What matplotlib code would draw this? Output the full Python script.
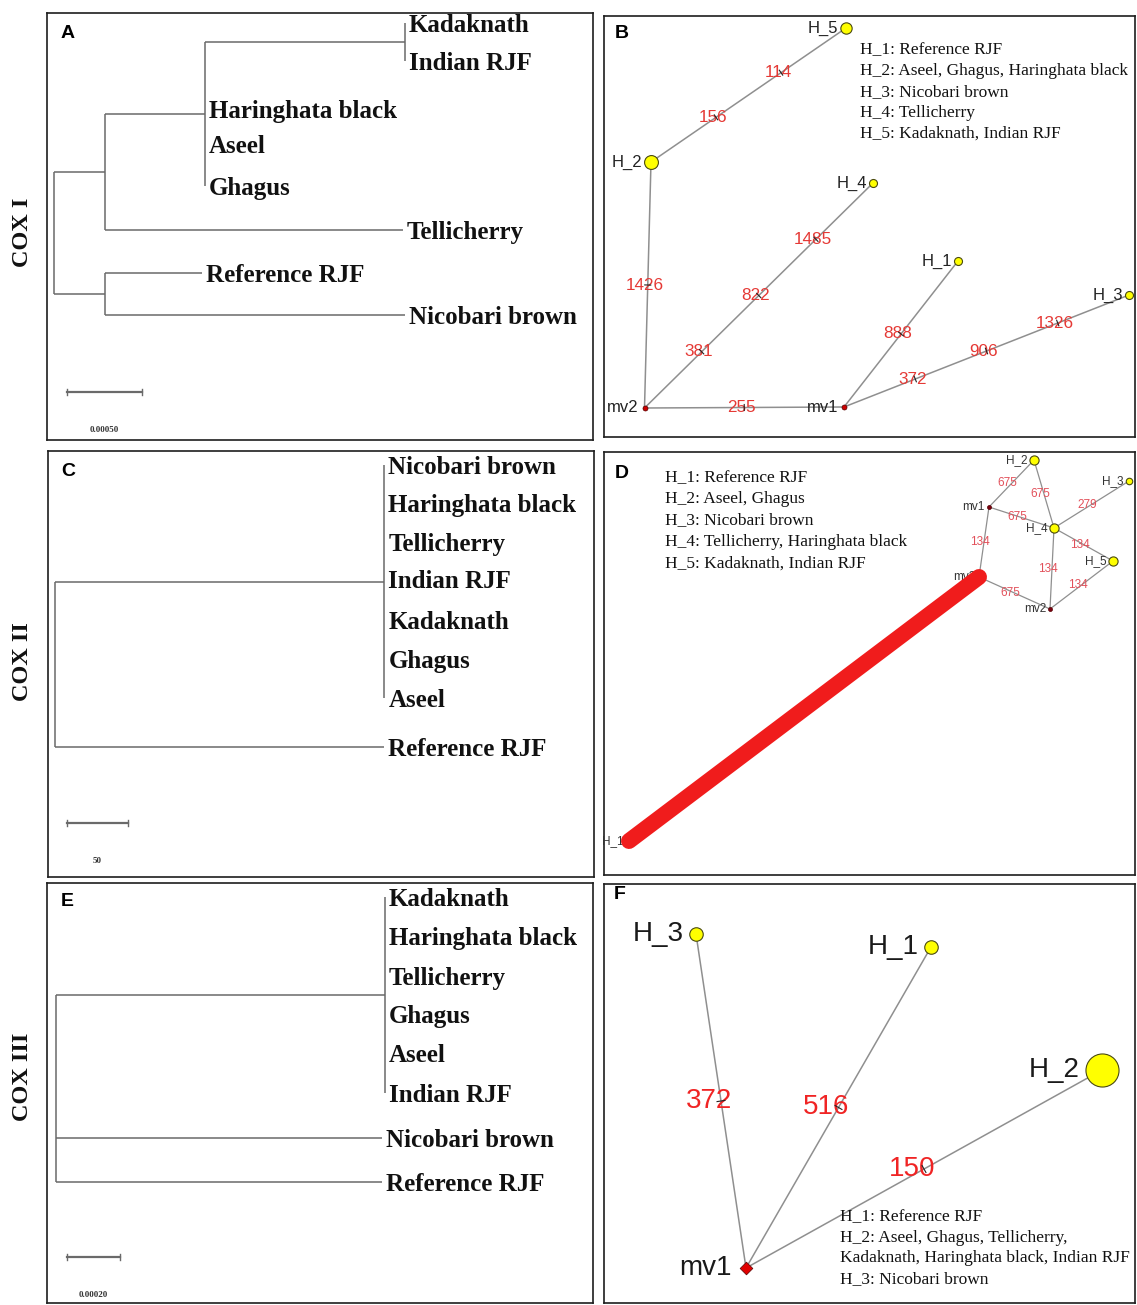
import matplotlib
matplotlib.use("Agg")
import matplotlib.pyplot as plt
import numpy as np

# ======================= DATA =======================
gene_names = ["COX I", "COX II", "COX III"]
panel_letters = ["A", "B", "C", "D", "E", "F"]

# Neighbour-joining trees (branch lengths)
cox1_newick = ("((((Kadaknath:0,Indian RJF:0):0.00133,Haringhata black:0,Aseel:0,Ghagus:0):0.00067,"
               "Tellicherry:0.00199):0.00034,(Reference RJF:0.00065,Nicobari brown:0.00200):0.00034);")
cox1_scale_bar = 0.00050
cox2_newick = ("((Nicobari brown:0,Haringhata black:0,Tellicherry:0,Indian RJF:0,Kadaknath:0,Ghagus:0,"
               "Aseel:0):270,Reference RJF:270);")
cox2_scale_bar = 50
cox3_newick = ("((Kadaknath:0,Haringhata black:0,Tellicherry:0,Ghagus:0,Aseel:0,Indian RJF:0):0.00124,"
               "Nicobari brown:0.00123,Reference RJF:0.00123);")
cox3_scale_bar = 0.00020

# Median-joining networks
b_haplotypes = ["H_1", "H_2", "H_3", "H_4", "H_5"]
b_hap_counts = [1, 3, 1, 1, 2]
b_median_vectors = ["mv1", "mv2"]
b_links = [("H_2", "H_5"), ("mv2", "H_2"), ("mv2", "H_4"), ("mv2", "mv1"), ("mv1", "H_1"), ("mv1", "H_3")]
b_mutations = [["156", "114"], ["1426"], ["381", "822", "1485"], ["255"], ["888"], ["372", "906", "1326"]]
b_legend = ["H_1: Reference RJF", "H_2: Aseel, Ghagus, Haringhata black", "H_3: Nicobari brown",
            "H_4: Tellicherry", "H_5: Kadaknath, Indian RJF"]

d_haplotypes = ["H_1", "H_2", "H_3", "H_4", "H_5"]
d_hap_counts = [1, 2, 1, 2, 2]
d_median_vectors = ["mv1", "mv2", "mv3"]
d_links = [("mv1", "H_2"), ("H_2", "H_4"), ("mv1", "H_4"), ("H_4", "H_3"), ("H_4", "H_5"),
           ("H_4", "mv2"), ("H_5", "mv2"), ("mv1", "mv3"), ("mv3", "mv2"), ("mv3", "H_1")]
# None = branch carrying so many mutations that their labels merge into a solid band
d_mutations = [["675"], ["675"], ["675"], ["279"], ["134"], ["134"], ["134"], ["134"], ["675"], None]
d_legend = ["H_1: Reference RJF", "H_2: Aseel, Ghagus", "H_3: Nicobari brown",
            "H_4: Tellicherry, Haringhata black", "H_5: Kadaknath, Indian RJF"]

f_haplotypes = ["H_1", "H_2", "H_3"]
f_hap_counts = [1, 6, 1]
f_median_vectors = ["mv1"]
f_links = [("mv1", "H_3"), ("mv1", "H_1"), ("mv1", "H_2")]
f_mutations = [["372"], ["516"], ["150"]]
f_legend = ["H_1: Reference RJF", "H_2: Aseel, Ghagus, Tellicherry,",
            "Kadaknath, Haringhata black, Indian RJF", "H_3: Nicobari brown"]

# ======================= LAYOUT / STYLE =======================
W, H = 1137, 1305
BOX = {"A": (47, 13, 593, 440), "B": (604, 16, 1135, 437),
       "C": (48, 451, 594, 877), "D": (604, 452, 1135, 875),
       "E": (47, 883, 593, 1303), "F": (604, 884, 1135, 1303)}
LETTER_XY = {"A": (61, 33), "B": (615, 33), "C": (61, 472), "D": (615, 473), "E": (61, 902), "F": (614, 895)}
GENE_XY = [(23, 232), (23, 662), (23, 1077)]

TREE_LAYOUT = {
    "A": dict(root_x=53.6, px_per_unit=150000, tip_y=[23, 61, 109, 144, 186, 230, 273, 315],
              bar=(67, 392), bar_label_y=430, fmt="{:.5f}"),
    "C": dict(root_x=55, px_per_unit=1.22, tip_y=[465, 503, 542, 579, 620, 659, 698, 747],
              bar=(67, 823), bar_label_y=861, fmt="{:g}"),
    "E": dict(root_x=56, px_per_unit=265000, tip_y=[897, 936, 976, 1014, 1053, 1093, 1138, 1182],
              bar=(67, 1257), bar_label_y=1295, fmt="{:.5f}"),
}
TREE_LABEL_DY = 2.5

NET_LAYOUT = {
    "B": dict(pos={"H_1": (958, 261), "H_2": (651, 162), "H_3": (1129, 295), "H_4": (873, 183),
                   "H_5": (846, 28), "mv1": (844, 407), "mv2": (644.5, 408)},
              hap_d=8, mv_d=5, mv_marker="o", mv_color="#cc0000", node_fs=12, mut_fs=12.3,
              mut_color="#e53935", mut_dx=-3, tick=6, gap=2, mv_gap=3, label_color="#222222",
              legend_xy=(860, 50), legend_dy=21, edge_lw=1.1),
    "D": dict(pos={"H_1": (629, 841), "H_2": (1034, 460), "H_3": (1129, 481), "H_4": (1054, 528),
                   "H_5": (1113, 561), "mv1": (989, 507), "mv2": (1050, 609), "mv3": (979, 577)},
              hap_d=6.5, mv_d=4, mv_marker="o", mv_color="#7a0010", node_fs=8.5, mut_fs=8.5,
              mut_color="#e2505a", mut_dx=-4, tick=0, gap=2, mv_gap=2, label_color="#333333",
              legend_xy=(665, 478), legend_dy=21.3, edge_lw=0.9,
              band_color="#f01c1c", band_lw=11.5),
    "F": dict(pos={"H_1": (931, 947), "H_2": (1102, 1070), "H_3": (696, 934), "mv1": (746, 1268)},
              hap_d=13.5, mv_d=9, mv_marker="D", mv_color="#e00000", node_fs=20, mut_fs=20,
              mut_color="#f02424", mut_dx=-12, tick=8, gap=6, mv_gap=10, label_color="#1a1a1a",
              legend_xy=(840, 1217), legend_dy=20.7, edge_lw=1.1),
}

TREE_COLOR = "#6a6a6a"
EDGE_COLOR = "#8f8f8f"
HAP_COLOR = "#ffff00"
SERIF = "Liberation Serif"
SANS = "Liberation Sans"

# ======================= HELPERS =======================
fig = plt.figure(figsize=(W / 100, H / 100), dpi=100)
fig.patch.set_facecolor("white")


def panel_axes(key):
    x0, y0, x1, y1 = BOX[key]
    ax = fig.add_axes([x0 / W, 1 - y1 / H, (x1 - x0) / W, (y1 - y0) / H])
    ax.set_xlim(x0, x1)
    ax.set_ylim(y1, y0)
    ax.set_xticks([])
    ax.set_yticks([])
    for s in ax.spines.values():
        s.set_linewidth(1.2)
        s.set_color("#1e1e1e")
    lx, ly = LETTER_XY[key]
    ax.text(lx, ly, key, family=SANS, fontweight="bold", fontsize=14, ha="left", va="center")
    return ax


def parse_newick(s):
    s = s.strip().rstrip(";")
    pos = 0

    def node():
        nonlocal pos
        children = []
        if s[pos] == "(":
            pos += 1
            children.append(node())
            while s[pos] == ",":
                pos += 1
                children.append(node())
            pos += 1
        start = pos
        while pos < len(s) and s[pos] not in ":,)":
            pos += 1
        name = s[start:pos]
        length = 0.0
        if pos < len(s) and s[pos] == ":":
            pos += 1
            start = pos
            while pos < len(s) and s[pos] not in ",)":
                pos += 1
            length = float(s[start:pos])
        return {"name": name, "len": length, "children": children}

    return node()


def layout_tree(nd, x, tips, px):
    nd["x"] = x
    if not nd["children"]:
        nd["y"] = next(tips)
        return
    for c in nd["children"]:
        layout_tree(c, x + c["len"] * px, tips, px)
    ys = [c["y"] for c in nd["children"]]
    nd["y"] = (min(ys) + max(ys)) / 2


def draw_tree_nodes(ax, nd):
    if nd["children"]:
        ys = [c["y"] for c in nd["children"]]
        ax.plot([nd["x"], nd["x"]], [min(ys), max(ys)], color=TREE_COLOR, lw=1.1, solid_capstyle="butt")
        for c in nd["children"]:
            if c["x"] > nd["x"]:
                ax.plot([nd["x"], c["x"]], [c["y"], c["y"]], color=TREE_COLOR, lw=1.1, solid_capstyle="butt")
            draw_tree_nodes(ax, c)
    else:
        ax.text(nd["x"] + 4, nd["y"] + TREE_LABEL_DY, nd["name"], family=SERIF, fontweight="bold",
                fontsize=18, ha="left", va="center", color="#111111")


def draw_tree(key, newick, scale_value):
    ax = panel_axes(key)
    L = TREE_LAYOUT[key]
    root = parse_newick(newick)
    layout_tree(root, L["root_x"], iter(L["tip_y"]), L["px_per_unit"])
    draw_tree_nodes(ax, root)
    bx, by = L["bar"]
    bx1 = bx + scale_value * L["px_per_unit"]
    ax.plot([bx, bx1], [by, by], color=TREE_COLOR, lw=1.6)
    for xx in (bx, bx1):
        ax.plot([xx, xx], [by - 3, by + 3], color=TREE_COLOR, lw=1.0)
    ax.text((bx + bx1) / 2, L["bar_label_y"], L["fmt"].format(scale_value), family=SERIF,
            fontweight="bold", fontsize=6.5, ha="center", va="center", color="#333333")
    return ax


def draw_network(key, haps, counts, mvs, links, muts, legend):
    ax = panel_axes(key)
    L = NET_LAYOUT[key]
    pos = L["pos"]
    for (a, b), m in zip(links, muts):
        (x0, y0), (x1, y1) = pos[a], pos[b]
        if m is None:
            ax.plot([x0, x1], [y0, y1], color=L["band_color"], lw=L["band_lw"],
                    solid_capstyle="round", zorder=8)
            continue
        ax.plot([x0, x1], [y0, y1], color=EDGE_COLOR, lw=L["edge_lw"], zorder=1)
        dx, dy = x1 - x0, y1 - y0
        ln = np.hypot(dx, dy)
        nx, ny = -dy / ln, dx / ln
        n = len(m)
        for k, lab in enumerate(m):
            f = (k + 1) / (n + 1)
            mx, my = x0 + f * dx, y0 + f * dy
            ax.text(mx + L["mut_dx"], my, lab, family=SANS, fontsize=L["mut_fs"], color=L["mut_color"],
                    ha="center", va="center", zorder=3)
            if L["tick"] > 0:
                t = L["tick"] / 2
                ax.plot([mx - nx * t, mx + nx * t], [my - ny * t, my + ny * t],
                        color="#222222", lw=0.8, zorder=4)
    for h, c in zip(haps, counts):
        x, y = pos[h]
        d = L["hap_d"] * np.sqrt(c)
        ax.scatter([x], [y], s=(d * 0.72) ** 2, c=HAP_COLOR, edgecolors="#4a4a10",
                   linewidths=0.8, zorder=5)
        ax.text(x - d / 2 - L["gap"], y, h, family=SANS, fontsize=L["node_fs"],
                color=L["label_color"], ha="right", va="center", zorder=5)
    for mv in mvs:
        x, y = pos[mv]
        ax.scatter([x], [y], s=(L["mv_d"] * 0.72) ** 2, marker=L["mv_marker"], c=L["mv_color"],
                   edgecolors="#550000", linewidths=0.5, zorder=5)
        ax.text(x - L["mv_d"] / 2 - L["mv_gap"], y, mv, family=SANS, fontsize=L["node_fs"],
                color=L["label_color"], ha="right", va="center", zorder=5)
    lx, ly = L["legend_xy"]
    for i, line in enumerate(legend):
        ax.text(lx, ly + i * L["legend_dy"], line, family=SERIF, fontsize=12.5,
                ha="left", va="center", color="#111111", zorder=6)
    return ax


# ======================= DRAW =======================
draw_tree("A", cox1_newick, cox1_scale_bar)
draw_network("B", b_haplotypes, b_hap_counts, b_median_vectors, b_links, b_mutations, b_legend)
draw_tree("C", cox2_newick, cox2_scale_bar)
draw_network("D", d_haplotypes, d_hap_counts, d_median_vectors, d_links, d_mutations, d_legend)
draw_tree("E", cox3_newick, cox3_scale_bar)
draw_network("F", f_haplotypes, f_hap_counts, f_median_vectors, f_links, f_mutations, f_legend)

for name, (gx, gy) in zip(gene_names, GENE_XY):
    fig.text(gx / W, 1 - gy / H, name, family=SERIF, fontweight="bold", fontsize=17.5,
             rotation=90, ha="center", va="center", color="#111111")

fig.savefig("out.png", dpi=100)
